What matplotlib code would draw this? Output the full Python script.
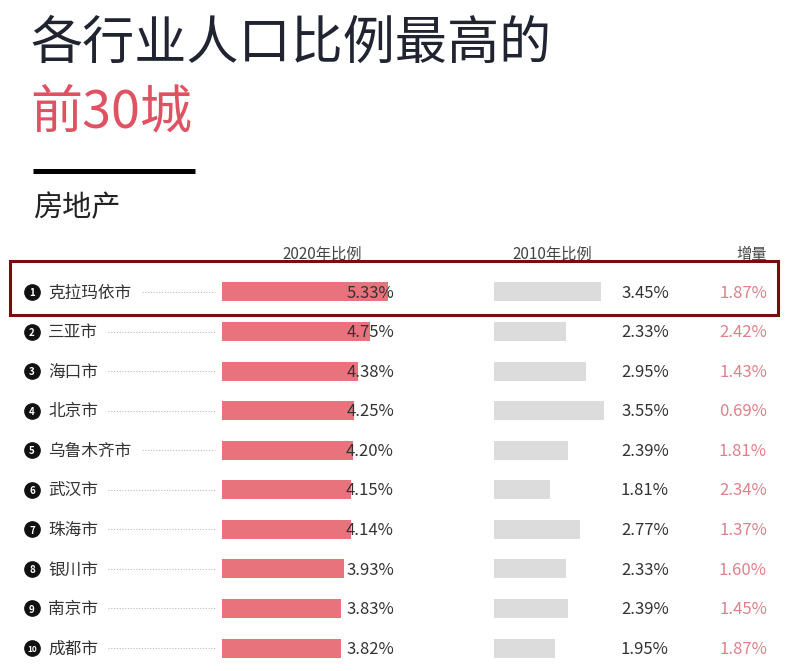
import matplotlib.pyplot as plt
import matplotlib.transforms as mtransforms
from matplotlib.patches import Rectangle

plt.rcParams['font.family'] = ['Noto Sans CJK SC', 'DejaVu Sans']

# 数据
cities = ['克拉玛依市', '三亚市', '海口市', '北京市', '乌鲁木齐市',
          '武汉市', '珠海市', '银川市', '南京市', '成都市']
v2020 = [5.33, 4.75, 4.38, 4.25, 4.20, 4.15, 4.14, 3.93, 3.83, 3.82]
v2010 = [3.45, 2.33, 2.95, 3.55, 2.39, 1.81, 2.77, 2.33, 2.39, 1.95]
growth = [1.87, 2.42, 1.43, 0.69, 1.81, 2.34, 1.37, 1.60, 1.45, 1.87]

W, H = 788, 671
fig = plt.figure(figsize=(W / 100, H / 100), dpi=100)

# 背景轴，像素坐标
bg = fig.add_axes([0, 0, 1, 1])
bg.set_xlim(0, W)
bg.set_ylim(H, 0)
bg.axis('off')

px_per_unit = 31.1
top, bottom = 272.2, 667.8


def add_bar_ax(x0):
    ax = fig.add_axes([x0 / W, 1 - bottom / H, 6 * px_per_unit / W, (bottom - top) / H])
    ax.set_xlim(0, 6)
    ax.set_ylim(len(cities) - 0.5, -0.5)
    ax.axis('off')
    return ax


ax1 = add_bar_ax(222)
ax2 = add_bar_ax(494)
ax1.barh(range(len(cities)), v2020, height=0.48, color='#e8737c')
ax2.barh(range(len(cities)), v2010, height=0.48, color='#dcdcdc')

# 标题
bg.text(30, 44, '各行业人口比例最高的', fontsize=37.5, color='#1f2430', va='center', ha='left',
        fontweight='medium')
bg.text(30, 113, '前30城', fontsize=37.5, color='#e05262', va='center', ha='left',
        fontweight='medium')
bg.plot([33, 195], [170.5, 170.5], color='black', lw=3.6, solid_capstyle='butt')
bg.text(33, 208, '房地产', fontsize=21, color='#222222', va='center', ha='left')

# 表头
bg.text(322, 254, '2020年比例', fontsize=11, color='#444444', ha='center', va='center',
        fontweight='medium')
bg.text(552, 254, '2010年比例', fontsize=11, color='#444444', ha='center', va='center',
        fontweight='medium')
bg.text(767, 254, '增量', fontsize=11, color='#444444', ha='right', va='center',
        fontweight='medium')

tr = mtransforms.blended_transform_factory(bg.transData, ax1.transData)

for i, name in enumerate(cities):
    fig.add_artist(plt.Line2D([32], [i], transform=tr, marker='o', markersize=11,
                              color='#111111', linestyle='none'))
    fig.text(32, i + 0.03, str(i + 1), transform=tr, fontsize=7 if i < 9 else 6,
             color='white', ha='center', va='center', fontweight='bold')
    fig.text(48, i + 0.03, name, transform=tr, fontsize=12, color='#333333', ha='left', va='center')
    x_start = 48 + len(name) * 16.8 + 10
    fig.add_artist(plt.Line2D([x_start, 215], [i, i], transform=tr, color='#bbbbbb',
                              lw=0.8, linestyle=(0, (1, 1.5))))
    fig.text(394, i + 0.03, f'{v2020[i]:.2f}%', transform=tr, fontsize=12, color='#333333',
             ha='right', va='center', fontweight='medium')
    fig.text(621, i + 0.03, f'{v2010[i]:.2f}%', transform=tr, fontsize=12, color='#333333',
             ha='left', va='center', fontweight='medium')
    fig.text(767, i + 0.03, f'{growth[i]:.2f}%', transform=tr, fontsize=12, color='#e0808a',
             ha='right', va='center', fontweight='medium')

# 第一行高亮框
box = Rectangle((10, 261), 768, 54, fill=False, edgecolor='#7a0c0c', lw=2.2)
bg.add_patch(box)

fig.savefig('out.png', dpi=100)
